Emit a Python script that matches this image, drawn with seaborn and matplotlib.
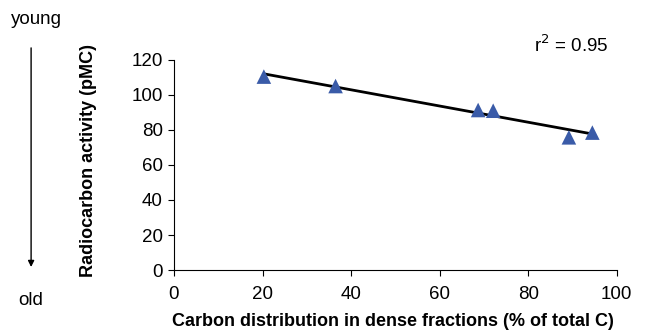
import matplotlib
matplotlib.use("Agg")
import matplotlib.pyplot as plt
import seaborn as sns
import numpy as np
import pandas as pd

carbon_dist = [20.3, 36.5, 68.7, 72.1, 89.2, 94.5]
radiocarbon = [110.5, 105.1, 91.4, 91.0, 75.8, 78.5]
x_ticks = [0, 20, 40, 60, 80, 100]
y_ticks = [0, 20, 40, 60, 80, 100, 120]

df = pd.DataFrame({"x": carbon_dist, "y": radiocarbon})

sns.set_style("ticks")
plt.rcParams['font.family'] = ['Liberation Sans', 'DejaVu Sans']
plt.rcParams['text.color'] = 'black'
plt.rcParams['axes.labelcolor'] = 'black'

fig = plt.figure(figsize=(6.48, 3.35), dpi=100)
ax = fig.add_axes([0.2685, 0.194, 0.6832, 0.627])

sns.regplot(data=df, x="x", y="y", ci=None, ax=ax, marker="^",
            scatter_kws=dict(color="#3a5ba8", s=110, edgecolor="none", zorder=3, alpha=1),
            line_kws=dict(color="black", lw=2.0, zorder=2), truncate=True)

ax.set_xlim(0, 100)
ax.set_ylim(0, 120)
ax.set_xticks(x_ticks)
ax.set_yticks(y_ticks)
ax.tick_params(labelsize=13.5, direction="out", length=4.5, width=0.8,
               colors="black", labelcolor="black")
ax.tick_params(axis="x", pad=7)
for s in ["top", "right"]:
    ax.spines[s].set_visible(False)
for s in ["left", "bottom"]:
    ax.spines[s].set_color("black")
    ax.spines[s].set_linewidth(0.8)

ax.set_xlabel("Carbon distribution in dense fractions (% of total C)", fontsize=13,
              fontweight="bold", va="center", ha="center")
ax.xaxis.set_label_coords(0.495, -0.245)
ax.set_ylabel("Radiocarbon activity (pMC)", fontsize=13, fontweight="bold",
              va="center", ha="center")
ax.yaxis.set_label_coords(-0.192, 0.52)

fig.text(0.881, 0.866, r"r$^2$ = 0.95", fontsize=13.5, ha="center", va="center")
fig.text(0.056, 0.942, "young", fontsize=13.5, ha="center", va="center")
fig.text(0.048, 0.102, "old", fontsize=13.5, ha="center", va="center")
fig.add_artist(matplotlib.patches.FancyArrowPatch((0.048, 0.857), (0.048, 0.203),
               transform=fig.transFigure, arrowstyle="-|>", mutation_scale=9,
               color="black", lw=1, shrinkA=0, shrinkB=0))

fig.savefig("out.png", dpi=100)
